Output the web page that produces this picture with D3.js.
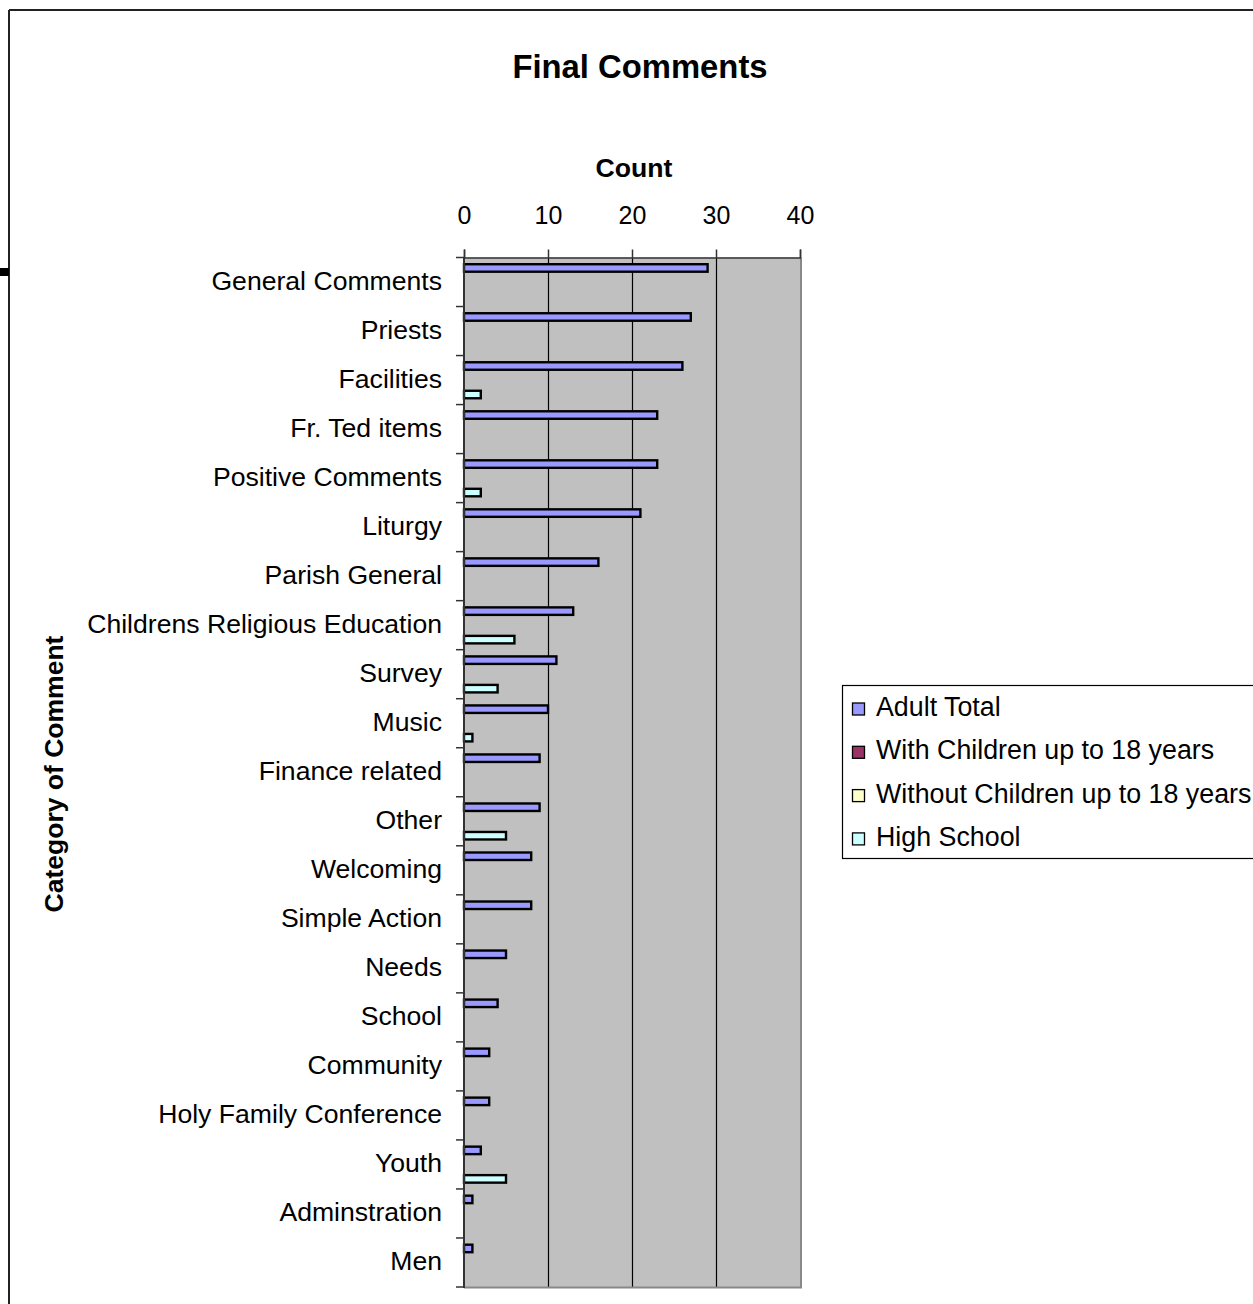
<!DOCTYPE html>
<html>
<head>
<meta charset="utf-8">
<script src="https://cdn.jsdelivr.net/npm/d3@7"></script>
<style>
  html, body { margin: 0; padding: 0; background: #fff; }
  svg { display: block; font-family: "Liberation Sans", Arial, sans-serif; }
</style>
</head>
<body>
<svg id="chart" width="1253" height="1304"></svg>
<script>
const categories = ["General Comments", "Priests", "Facilities", "Fr. Ted items", "Positive Comments",
  "Liturgy", "Parish General", "Childrens Religious Education", "Survey", "Music", "Finance related",
  "Other", "Welcoming", "Simple Action", "Needs", "School", "Community", "Holy Family Conference",
  "Youth", "Adminstration", "Men"];
const seriesNames = ["Adult Total", "With Children up to 18 years", "Without Children up to 18 years", "High School"];
const adultTotal      = [29, 27, 26, 23, 23, 21, 16, 13, 11, 10, 9, 9, 8, 8, 5, 4, 3, 3, 2, 1, 1];
const withChildren    = [0, 0, 0, 0, 0, 0, 0, 0, 0, 0, 0, 0, 0, 0, 0, 0, 0, 0, 0, 0, 0];
const withoutChildren = [0, 0, 0, 0, 0, 0, 0, 0, 0, 0, 0, 0, 0, 0, 0, 0, 0, 0, 0, 0, 0];
const highSchool      = [0, 0, 2, 0, 2, 0, 0, 6, 4, 1, 0, 5, 0, 0, 0, 0, 0, 0, 5, 0, 0];
const tickValues = [0, 10, 20, 30, 40];
const seriesColors = ["#9999FF", "#993366", "#FFFFCC", "#CCFFFF"];

const seriesValues = [adultTotal, withChildren, withoutChildren, highSchool];

const svg = d3.select("#chart");

// outer chart frame
svg.append("line").attr("x1", 9).attr("x2", 1253).attr("y1", 10).attr("y2", 10)
  .attr("stroke", "#222").attr("stroke-width", 2);
svg.append("line").attr("x1", 9).attr("x2", 9).attr("y1", 10).attr("y2", 1304)
  .attr("stroke", "#222").attr("stroke-width", 2);
svg.append("rect").attr("x", 0).attr("y", 268).attr("width", 9).attr("height", 8).attr("fill", "#000");

const plotLeft = 464, plotRight = 800, plotTop = 257.5, plotBottom = 1287;

const x = d3.scaleLinear().domain([0, 40]).range([plotLeft, plotRight]);
const y = d3.scaleBand().domain(categories).range([plotTop, plotBottom]).padding(0);
const inner = d3.scaleBand().domain(seriesNames).range([0, y.bandwidth()])
  .paddingInner(0).paddingOuter(0.58);

// plot background
svg.append("rect").attr("x", plotLeft).attr("y", plotTop)
  .attr("width", plotRight - plotLeft).attr("height", plotBottom - plotTop)
  .attr("fill", "#C0C0C0");

// gridlines
svg.append("g").selectAll("line").data(tickValues.filter(v => v > 0 && v < 40)).join("line")
  .attr("x1", d => Math.round(x(d)) + 0.5).attr("x2", d => Math.round(x(d)) + 0.5)
  .attr("y1", plotTop).attr("y2", plotBottom)
  .attr("stroke", "#000").attr("stroke-width", 1.2);

// plot right & bottom border (gray)
svg.append("line").attr("x1", plotRight + 1).attr("x2", plotRight + 1)
  .attr("y1", plotTop).attr("y2", plotBottom + 1)
  .attr("stroke", "#888").attr("stroke-width", 2);
svg.append("line").attr("x1", plotLeft).attr("x2", plotRight + 2)
  .attr("y1", plotBottom + 0.5).attr("y2", plotBottom + 0.5)
  .attr("stroke", "#888").attr("stroke-width", 2);

// bars
const rows = [];
categories.forEach((c, i) => {
  seriesNames.forEach((s, j) => {
    const v = seriesValues[j][i];
    if (v > 0) rows.push({ c, s, v, color: seriesColors[j] });
  });
});
svg.append("g").selectAll("rect").data(rows).join("rect")
  .attr("x", x(0))
  .attr("y", d => y(d.c) + inner(d.s) + 1.2)
  .attr("width", d => x(d.v) - x(0))
  .attr("height", inner.bandwidth() - 2)
  .attr("fill", d => d.color)
  .attr("stroke", "#000").attr("stroke-width", 2.4);

// top (x) axis
const xAxis = d3.axisTop(x).tickValues(tickValues).tickSize(8).tickPadding(26).tickFormat(d3.format("d"));
const gx = svg.append("g").attr("transform", `translate(0,${plotTop})`).call(xAxis);
gx.select(".domain").attr("stroke", "#333").attr("stroke-width", 1.5);
gx.selectAll(".tick line").attr("stroke", "#333").attr("stroke-width", 1.5);
gx.selectAll(".tick text").attr("font-size", 25).attr("fill", "#000")
  .attr("font-family", "Liberation Sans, Arial, sans-serif");

// left (y) axis line and boundary ticks
svg.append("line").attr("x1", plotLeft).attr("x2", plotLeft)
  .attr("y1", plotTop).attr("y2", plotBottom + 1)
  .attr("stroke", "#333").attr("stroke-width", 2);
const boundaries = categories.map(c => y(c)).concat([plotBottom]);
svg.append("g").selectAll("line").data(boundaries).join("line")
  .attr("x1", plotLeft - 8).attr("x2", plotLeft)
  .attr("y1", d => d).attr("y2", d => d)
  .attr("stroke", "#333").attr("stroke-width", 1.5);

// category labels
svg.append("g").selectAll("text").data(categories).join("text")
  .attr("x", 442)
  .attr("y", d => y(d) + y.bandwidth() / 2 + 8)
  .attr("text-anchor", "end")
  .attr("font-size", 26.6)
  .attr("fill", "#000")
  .text(d => d);

// titles
svg.append("text").attr("x", 640).attr("y", 78).attr("text-anchor", "middle")
  .attr("font-size", 32.8).attr("font-weight", "bold").text("Final Comments");
svg.append("text").attr("x", 634).attr("y", 177).attr("text-anchor", "middle")
  .attr("font-size", 26.6).attr("font-weight", "bold").text("Count");
svg.append("text").attr("transform", "translate(63,774) rotate(-90)").attr("text-anchor", "middle")
  .attr("font-size", 26.5).attr("font-weight", "bold").text("Category of Comment");

// legend
const legend = svg.append("g");
legend.append("rect").attr("x", 842.5).attr("y", 685.5).attr("width", 430).attr("height", 173)
  .attr("fill", "#fff").attr("stroke", "#000").attr("stroke-width", 1.2);
const li = legend.selectAll("g.item").data(seriesNames).join("g").attr("class", "item")
  .attr("transform", (d, i) => `translate(0,${716 + i * 43.3})`);
li.append("rect").attr("x", 852.5).attr("y", -13).attr("width", 12).attr("height", 12)
  .attr("fill", (d, i) => seriesColors[i]).attr("stroke", "#000").attr("stroke-width", 1.3);
li.append("text").attr("x", 876).attr("y", 0).attr("font-size", 26.8).attr("fill", "#000").text(d => d);
</script>
</body>
</html>
